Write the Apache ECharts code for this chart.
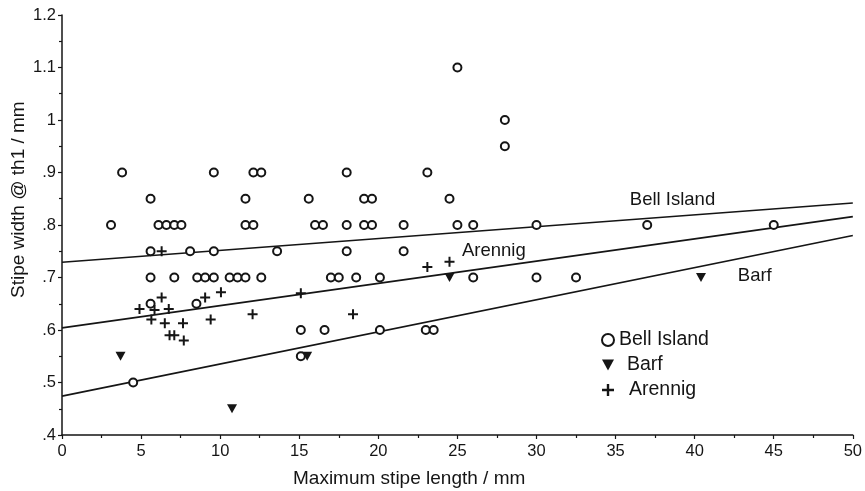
<!DOCTYPE html>
<html>
<head>
<meta charset="utf-8">
<script src="https://cdn.jsdelivr.net/npm/echarts@6/dist/echarts.min.js"></script>
<style>html,body{margin:0;padding:0;background:#fff}#c{width:865px;height:491px}</style>
</head>
<body>
<div id="c"></div>
<script>
// Bell Island: [max stipe length, stipe width]
var bellIsland = [
  [3.1,0.8],[3.8,0.9],[5.6,0.85],[6.1,0.8],[6.6,0.8],[7.1,0.8],[7.55,0.8],[9.6,0.9],[11.6,0.85],
  [12.1,0.9],[12.6,0.9],[11.6,0.8],[12.1,0.8],
  [5.6,0.75],[8.1,0.75],[9.6,0.75],[13.6,0.75],[18.0,0.75],[21.6,0.75],
  [5.6,0.7],[7.1,0.7],[8.55,0.7],[9.05,0.7],[9.6,0.7],[10.6,0.7],[11.1,0.7],[11.6,0.7],[12.6,0.7],
  [17.0,0.7],[17.5,0.7],[18.6,0.7],[20.1,0.7],[26.0,0.7],[30.0,0.7],[32.5,0.7],
  [5.6,0.65],[8.5,0.65],[4.5,0.5],
  [15.1,0.6],[16.6,0.6],[20.1,0.6],[23.0,0.6],[23.5,0.6],[15.1,0.55],
  [18.0,0.9],[23.1,0.9],[15.6,0.85],[19.1,0.85],[19.6,0.85],[24.5,0.85],
  [16.0,0.8],[16.5,0.8],[18.0,0.8],[19.1,0.8],[19.6,0.8],[21.6,0.8],[25.0,0.8],[26.0,0.8],
  [30.0,0.8],[37.0,0.8],[45.0,0.8],
  [25.0,1.1],[28.0,1.0],[28.0,0.95]
];
var barf = [[3.7,0.55],[10.75,0.45],[15.5,0.55],[24.5,0.70],[40.4,0.70]];
var arennig = [
  [6.3,0.75],[6.3,0.662],[9.05,0.662],[10.05,0.672],[4.9,0.64],[5.85,0.638],[6.75,0.64],
  [5.65,0.62],[6.5,0.613],[7.65,0.613],[9.4,0.62],[12.05,0.63],[6.8,0.59],[7.1,0.59],[7.7,0.58],
  [15.1,0.67],[18.4,0.63],[23.1,0.72],[24.5,0.73]
];
// regression lines: endpoints at x = 0 and x = 50
var lineX = [0, 50];
var bellLine = [0.729, 0.842];
var arennigLine = [0.604, 0.816];
var barfLine = [0.474, 0.780];
// line labels [x, y, text]
var lineLabels = [[38.6, 0.848, 'Bell Island'], [27.3, 0.750, 'Arennig'], [43.8, 0.703, 'Barf']];

var FONT = 'Liberation Sans, Arial, sans-serif';
var INK = '#151515';
function pairs(xs, ys){ return xs.map(function(x,i){ return [x, ys[i]]; }); }
var triDown = 'path://M0,0 L10,0 L5,9 Z';
var plus = 'path://M4,0 H6 V4 H10 V6 H6 V10 H4 V6 H0 V4 H4 Z';

var chart = echarts.init(document.getElementById('c'), null, {renderer:'canvas'});
chart.setOption({
  backgroundColor: '#fff',
  animation: false,
  textStyle: {fontFamily: FONT},
  grid: {left: 62, right: 10, top: 15, bottom: 56, containLabel: false},
  xAxis: {
    type: 'value', min: 0, max: 50, interval: 5,
    axisLine: {show: true, lineStyle: {color: INK, width: 1.5}},
    axisTick: {show: true, inside: false, length: 4, lineStyle: {color: INK, width: 1.2}},
    minorTick: {show: true, splitNumber: 2, length: 3, lineStyle: {color: INK, width: 1.2}},
    splitLine: {show: false},
    axisLabel: {color: INK, fontSize: 16.5, margin: 8, fontFamily: FONT}
  },
  yAxis: {
    type: 'value', min: 0.4, max: 1.2, interval: 0.1,
    axisLine: {show: true, lineStyle: {color: INK, width: 1.5}},
    axisTick: {show: true, inside: false, length: 4, lineStyle: {color: INK, width: 1.2}},
    minorTick: {show: true, splitNumber: 2, length: 3, lineStyle: {color: INK, width: 1.2}},
    splitLine: {show: false},
    axisLabel: {color: INK, fontSize: 16.5, margin: 6, fontFamily: FONT,
      formatter: function(v){
        var r = Math.round(v*10)/10;
        if (r === 1) return '1';
        var s = r.toFixed(1);
        return r < 1 ? s.replace(/^0/, '') : s;
      }}
  },
  legend: {
    orient: 'vertical', left: 596, top: 325, itemGap: 5, itemWidth: 12, itemHeight: 12,
    textStyle: {color: INK, fontSize: 19.5, lineHeight: 20, fontFamily: FONT},
    data: [
      {name: 'Bell Island', icon: 'emptyCircle', itemStyle: {color: INK, borderColor: INK, borderWidth: 2}},
      {name: 'Barf', icon: triDown, textStyle: {padding: [0, 0, 0, 8]}},
      {name: 'Arennig', icon: plus, textStyle: {padding: [0, 0, 0, 10]}}
    ]
  },
  series: [
    {name: 'Bell Island', type: 'scatter', data: bellIsland, symbol: 'emptyCircle', symbolSize: 8,
     itemStyle: {color: INK, borderColor: INK, borderWidth: 1.8, opacity: 1}, z: 3},
    {name: 'Barf', type: 'scatter', data: barf, symbol: triDown, symbolSize: [10, 9],
     itemStyle: {color: INK, opacity: 1}, z: 4},
    {name: 'Arennig', type: 'scatter', data: arennig, symbol: plus, symbolSize: 10,
     itemStyle: {color: INK, opacity: 1}, z: 4},
    {name: 'bellLine', type: 'line', data: pairs(lineX, bellLine), symbol: 'none',
     lineStyle: {color: INK, width: 1.6}, z: 2, silent: true},
    {name: 'arennigLine', type: 'line', data: pairs(lineX, arennigLine), symbol: 'none',
     lineStyle: {color: INK, width: 1.6}, z: 2, silent: true},
    {name: 'barfLine', type: 'line', data: pairs(lineX, barfLine), symbol: 'none',
     lineStyle: {color: INK, width: 1.6}, z: 2, silent: true},
    {name: 'lineLabels', type: 'scatter', symbolSize: 0, silent: true, itemStyle: {opacity: 1},
     data: lineLabels.map(function(d){ return {value: [d[0], d[1]], label: {formatter: d[2]}}; }),
     label: {show: true, position: 'inside', color: INK, fontSize: 18.5, fontFamily: FONT}}
  ],
  graphic: [
    {type: 'text', x: 293, y: 469, style: {text: 'Maximum stipe length / mm', fill: INK, font: '19px ' + FONT}},
    {type: 'text', rotation: Math.PI/2, x: 9, y: 298, style: {text: 'Stipe width @ th1 / mm', fill: INK, font: '19px ' + FONT}}
  ]
});
</script>
</body>
</html>
